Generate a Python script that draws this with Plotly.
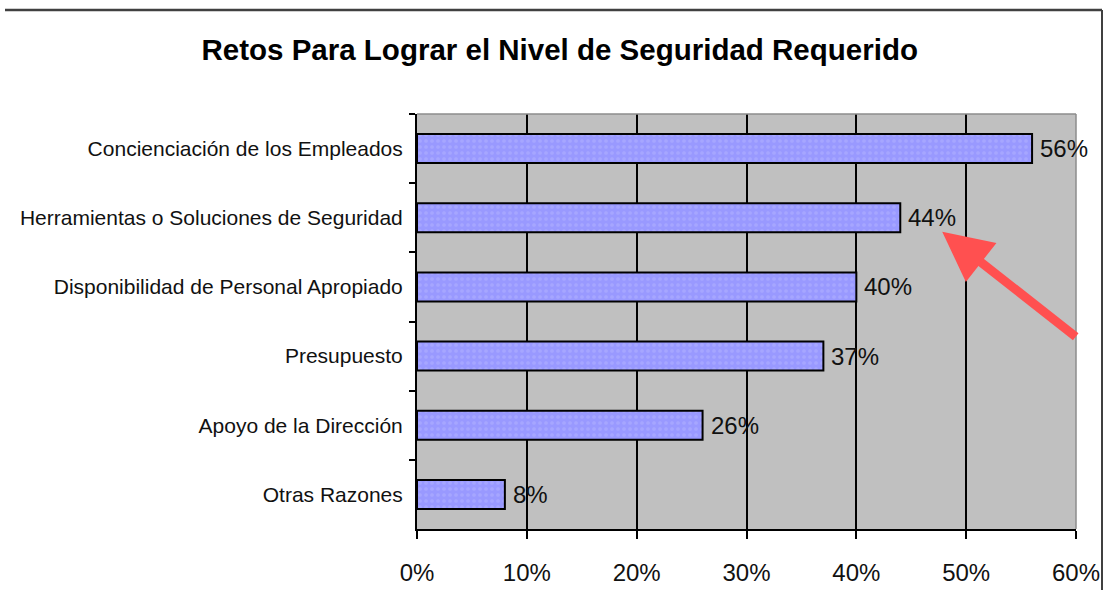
import plotly.graph_objects as go

categories = [
    "Concienciación de los Empleados",
    "Herramientas o Soluciones de Seguridad",
    "Disponibilidad de Personal Apropiado",
    "Presupuesto",
    "Apoyo de la Dirección",
    "Otras Razones",
]
values = [0.56, 0.44, 0.40, 0.37, 0.26, 0.08]
x_tickvals = [0, 0.1, 0.2, 0.3, 0.4, 0.5, 0.6]
x_ticktext = ["0%", "10%", "20%", "30%", "40%", "50%", "60%"]
title_text = "Retos Para Lograr el Nivel de Seguridad Requerido"

FONT = "Arial, Liberation Sans, sans-serif"

fig = go.Figure()
fig.add_trace(go.Bar(
    x=values,
    y=categories,
    orientation="h",
    width=0.42,
    marker=dict(
        color="#9999FF",
        line=dict(color="#000000", width=2),
        pattern=dict(shape=".", size=6, solidity=0.3,
                     fgcolor="#B3B3FF", bgcolor="#9999FF"),
    ),
    hoverinfo="skip",
))

for v, c in zip(values, categories):
    fig.add_annotation(
        x=v, y=c, xref="x", yref="y",
        text=f"{round(v * 100)}%",
        showarrow=False, xanchor="left", yanchor="middle",
        xshift=6,
        font=dict(family=FONT, size=24, color="#111111"),
    )

# red arrow pointing at the 44% label
fig.add_annotation(
    x=0.797, y=0.716, xref="paper", yref="paper",
    ax=135, ay=106, axref="pixel", ayref="pixel",
    showarrow=True, arrowhead=2, arrowsize=1.1, arrowwidth=9,
    arrowcolor="#FF5050", text="",
)

fig.update_layout(
    width=1104, height=590,
    margin=dict(l=417, r=28, t=114, b=61),
    paper_bgcolor="#FFFFFF",
    plot_bgcolor="#C0C0C0",
    showlegend=False,
    title=dict(
        text=title_text,
        x=0.507, xref="container", xanchor="center",
        y=1 - 50 / 590, yref="container", yanchor="middle",
        font=dict(family=FONT, size=29.5, color="#000000", weight="bold"),
    ),
    xaxis=dict(
        range=[0, 0.6],
        automargin=False,
        tickvals=x_tickvals, ticktext=x_ticktext,
        showgrid=True, gridcolor="#000000", gridwidth=1.5,
        showline=True, linecolor="#000000", linewidth=2,
        ticks="outside", ticklen=8, tickwidth=2, tickcolor="#000000",
        ticklabelstandoff=13,
        tickfont=dict(family=FONT, size=24, color="#111111"),
        zeroline=False, fixedrange=True,
    ),
    yaxis=dict(
        autorange="reversed",
        automargin=False,
        showgrid=False,
        showline=True, linecolor="#000000", linewidth=2,
        ticks="outside", tickson="boundaries", ticklen=6, tickwidth=2,
        tickcolor="#000000",
        ticklabelstandoff=8,
        tickfont=dict(family=FONT, size=21, color="#111111"),
        fixedrange=True,
    ),
    shapes=[
        # plot area top & right edges (grey)
        dict(type="line", xref="paper", yref="paper", x0=0, x1=1, y0=1, y1=1,
             line=dict(color="#8C8C8C", width=1.5)),
        dict(type="line", xref="paper", yref="paper", x0=1, x1=1, y0=0, y1=1,
             line=dict(color="#8C8C8C", width=1.5)),
        # outer frame (top and right)
        dict(type="line", xref="paper", yref="paper",
             x0=-412 / 659, x1=(1102 - 417) / 659,
             y0=(529 - 10) / 415, y1=(529 - 10) / 415,
             line=dict(color="#404040", width=2.5)),
        dict(type="line", xref="paper", yref="paper",
             x0=(1102 - 417) / 659, x1=(1102 - 417) / 659,
             y0=-61 / 415, y1=(529 - 10) / 415,
             line=dict(color="#404040", width=2)),
    ],
)

fig.write_html("out.html", config={"displayModeBar": False},
               post_script="document.body.style.margin='0';")
